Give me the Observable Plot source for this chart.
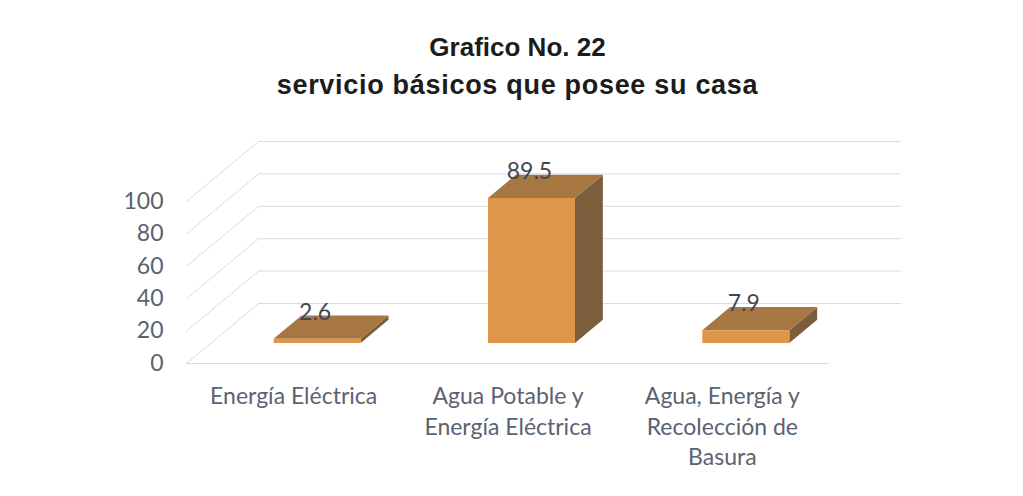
<!DOCTYPE html>
<html><head><meta charset="utf-8">
<script src="https://cdn.jsdelivr.net/npm/d3@7"></script>
<script src="https://cdn.jsdelivr.net/npm/@observablehq/plot@0.6"></script>
<style>
body{margin:0;background:#fff;width:1023px;height:496px;overflow:hidden;position:relative}
#title{position:relative;height:110px;font-family:"Liberation Sans",Arial,sans-serif;font-weight:bold;color:#1c1c1c;text-align:center}
#title div{position:absolute;left:12px;right:0;line-height:38px}
#chart svg{display:block}
</style></head><body>
<div id="title"><div style="top:28px;font-size:26px" id="t1"></div><div style="top:66px;font-size:27px;letter-spacing:0.7px" id="t2"></div></div>
<div id="chart"></div>
<script>
const titleLine1 = "Grafico No. 22";
const titleLine2 = "servicio básicos que posee su casa";
const categories = ["Energía Eléctrica", "Agua Potable y\nEnergía Eléctrica", "Agua, Energía y\nRecolección de\nBasura"];
const values = [2.6, 89.5, 7.9];
const valueLabels = ["2.6", "89.5", "7.9"];
const yTicks = [0, 20, 40, 60, 80, 100];

document.getElementById("t1").textContent = titleLine1;
document.getElementById("t2").textContent = titleLine2;

// pseudo-3D geometry (depth expressed in data units)
const kx = 0.336, ky = 37, zf = 0.333, zb = 0.72, hw = 0.203;
const bars = categories.map((c, i) => ({c, i, v: values[i], cx: i + 0.5, label: valueLabels[i]}));
const front = bars.map(b => ({c: b.c, x1: b.cx - hw + zf * kx, x2: b.cx + hw + zf * kx, y1: zf * ky, y2: b.v + zf * ky}));
const topFace = bars.flatMap(b => [
  {c: b.c, y: b.v + zf * ky, x1: b.cx - hw + zf * kx, x2: b.cx + hw + zf * kx},
  {c: b.c, y: b.v + zb * ky, x1: b.cx - hw + zb * kx, x2: b.cx + hw + zb * kx}
]);
const sideFace = bars.flatMap(b => [
  {c: b.c, x: b.cx + hw + zf * kx, y1: zf * ky, y2: b.v + zf * ky},
  {c: b.c, x: b.cx + hw + zb * kx, y1: zb * ky, y2: b.v + zb * ky}
]);
const grid = "#d6dce7";
const xTicks = categories.map((c, i) => i + 0.5);

const chart = Plot.plot({
  width: 1023, height: 386,
  marginLeft: 186, marginRight: 122, marginTop: 31, marginBottom: 133,
  style: {fontFamily: "Lato, sans-serif", fontSize: "23px", background: "#fff"},
  x: {type: "linear", domain: [0, 3 + kx]},
  y: {domain: [0, 137]},
  marks: [
    Plot.ruleY(yTicks, {y: d => d + ky, x1: kx, x2: 3 + kx, stroke: grid}),
    Plot.link(yTicks, {x1: 0, y1: d => d, x2: kx, y2: d => d + ky, stroke: grid}),
    Plot.ruleY([0], {x1: 0, x2: 3, stroke: grid}),
    Plot.areaY(sideFace, {x: "x", y1: "y1", y2: "y2", z: "c", fill: "#7c5e3d", curve: "linear"}),
    Plot.areaX(topFace, {y: "y", x1: "x1", x2: "x2", z: "c", fill: "#a77742", curve: "linear"}),
    Plot.rect(front, {x1: "x1", x2: "x2", y1: "y1", y2: "y2", fill: "#df964b"}),
    Plot.text(bars, {x: b => b.cx + 0.1, y: b => b.v + 29, text: "label", fill: "#3f4757", fontSize: 23}),
    Plot.axisY(yTicks, {tickSize: 0, tickPadding: 23, fontSize: 23, fill: "#5b6272", label: null}),
    Plot.axisX(xTicks, {tickSize: 0, tickPadding: 19, fontSize: 23, fill: "#5b6272", label: null, lineHeight: 1.33,
      tickFormat: d => categories[Math.round(d - 0.5)]})
  ]
});
document.getElementById("chart").appendChild(chart);
</script>
</body></html>
